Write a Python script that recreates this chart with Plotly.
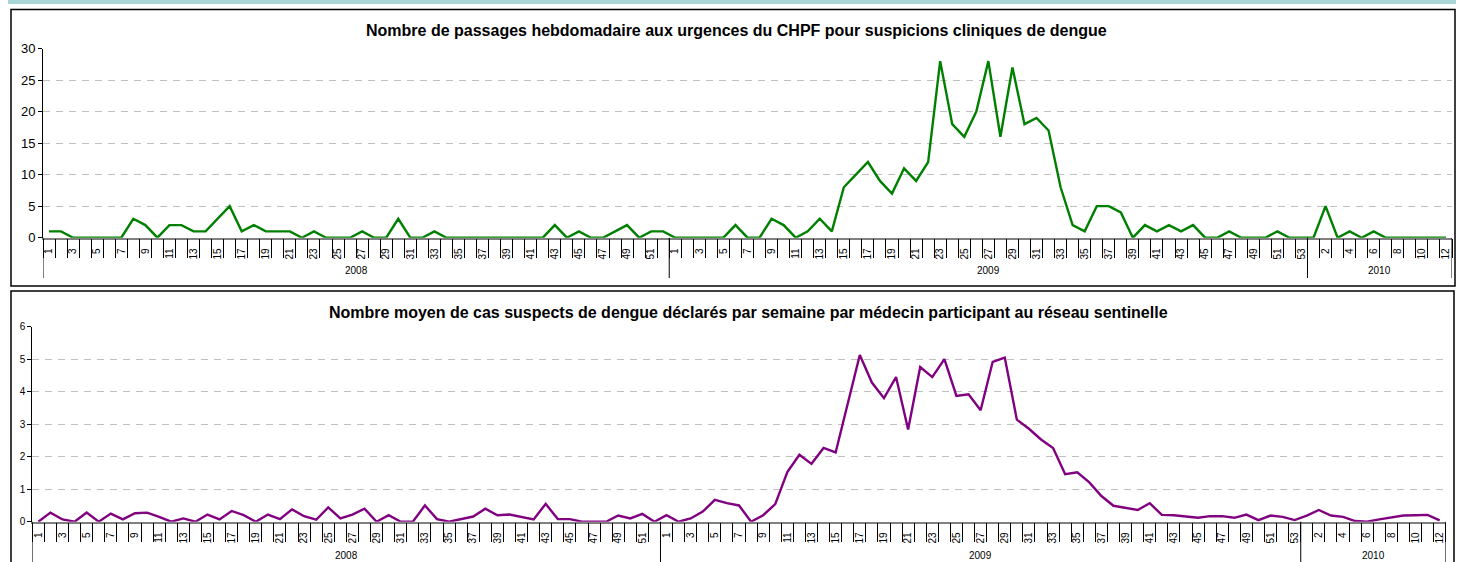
import plotly.graph_objects as go

# ---------------- data ----------------
years = ["2008", "2009", "2010"]
weeks_per_year = [52, 53, 12]

urgences_2008 = [1, 1, 0, 0, 0, 0, 0, 3, 2, 0, 2, 2, 1, 1, 3, 5, 1, 2, 1, 1,
                 1, 0, 1, 0, 0, 0, 1, 0, 0, 3, 0, 0, 1, 0, 0, 0, 0, 0, 0, 0,
                 0, 0, 2, 0, 1, 0, 0, 1, 2, 0, 1, 1]
urgences_2009 = [0, 0, 0, 0, 0, 2, 0, 0, 3, 2, 0, 1, 3, 1, 8, 10, 12, 9, 7, 11,
                 9, 12, 28, 18, 16, 20, 28, 16, 27, 18, 19, 17, 8, 2, 1, 5, 5, 4, 0, 2,
                 1, 2, 1, 2, 0, 0, 1, 0, 0, 0, 1, 0, 0]
urgences_2010 = [0, 5, 0, 1, 0, 1, 0, 0, 0, 0, 0, 0]

sentinelle_2008 = [0.0, 0.28, 0.07, 0.0, 0.28, 0.0, 0.25, 0.07, 0.26, 0.28,
                   0.15, 0.0, 0.1, 0.0, 0.22, 0.07, 0.33, 0.2, 0.0, 0.22,
                   0.08, 0.38, 0.17, 0.06, 0.44, 0.1, 0.22, 0.4, 0.0, 0.2,
                   0.0, 0.0, 0.5, 0.08, 0.0, 0.07, 0.16, 0.4, 0.2, 0.22,
                   0.15, 0.07, 0.55, 0.08, 0.08, 0.0, 0.0, 0.0, 0.19, 0.1,
                   0.24, 0.0]
sentinelle_2009 = [0.2, 0.0, 0.1, 0.31, 0.67, 0.57, 0.5, 0.0, 0.2, 0.54,
                   1.53, 2.06, 1.78, 2.27, 2.13, 3.6, 5.13, 4.28, 3.8, 4.45,
                   2.84, 4.76, 4.45, 5.0, 3.87, 3.92, 3.43, 4.92, 5.05, 3.14,
                   2.86, 2.53, 2.27, 1.46, 1.52, 1.21, 0.79, 0.49, 0.43, 0.36,
                   0.57, 0.21, 0.2, 0.15, 0.12, 0.17, 0.17, 0.12, 0.22, 0.05,
                   0.19, 0.15, 0.05]
sentinelle_2010 = [0.19, 0.36, 0.19, 0.15, 0.02, 0.0, 0.07, 0.13, 0.19, 0.2,
                   0.21, 0.04]

title_top = "Nombre de passages hebdomadaire aux urgences du CHPF pour suspicions cliniques de dengue"
title_bottom = "Nombre moyen de cas suspects de dengue déclarés par semaine par médecin participant au réseau sentinelle"

# ---------------- derived category positions ----------------
week_labels = []
for n in weeks_per_year:
    week_labels += [str(w) for w in range(1, n + 1)]
n_cat = len(week_labels)
xpos = list(range(n_cat))
urgences = urgences_2008 + urgences_2009 + urgences_2010
sentinelle = sentinelle_2008 + sentinelle_2009 + sentinelle_2010

tickvals = xpos[::2]
ticktext = week_labels[::2]

bounds = [-0.5]
for n in weeks_per_year:
    bounds.append(bounds[-1] + n)
year_centers = [(bounds[i] + bounds[i + 1]) / 2 for i in range(len(years))]

W, H = 1463, 562
FONT = "Liberation Sans, Arial, sans-serif"


def px_x(v):
    return v / W


def px_y(v):
    return 1 - v / H


fig = go.Figure()
fig.add_trace(go.Scatter(x=xpos, y=urgences, mode="lines",
                         line=dict(color="#008000", width=2.4),
                         xaxis="x", yaxis="y", showlegend=False,
                         hoverinfo="skip"))
fig.add_trace(go.Scatter(x=xpos, y=sentinelle, mode="lines",
                         line=dict(color="#800080", width=2.4),
                         xaxis="x2", yaxis="y2", showlegend=False,
                         hoverinfo="skip"))

# plot area geometry (pixels)
top = dict(left=43, right=1452, ytop=48.5, ybot=237.7, sep=278, yearlab=271)
bot = dict(left=32.3, right=1445.7, ytop=326.7, ybot=521.7, sep=575, yearlab=555)


def xaxis_def(g, anchor):
    return dict(
        domain=[px_x(g["left"]), px_x(g["right"])],
        range=[-0.5, n_cat - 0.5],
        anchor=anchor, automargin=False,
        tickmode="array", tickvals=tickvals, ticktext=ticktext,
        tickangle=-90, ticks="", ticklabelstandoff=5,
        tickfont=dict(family=FONT, size=10, color="#000"),
        showgrid=False, zeroline=False,
        showline=True, linecolor="#808080", linewidth=1.5,
        minor=dict(tickmode="linear", tick0=-0.5, dtick=1, ticks="outside",
                   ticklen=19, tickwidth=1, tickcolor="#000", showgrid=False),
        fixedrange=True,
    )


def yaxis_def(g, anchor, rng, dtick, fsize):
    return dict(
        domain=[px_y(g["ybot"]), px_y(g["ytop"])],
        range=rng, dtick=dtick, anchor=anchor, automargin=False,
        ticks="outside", ticklen=4, tickcolor="#000", tickwidth=1,
        tickfont=dict(family=FONT, size=fsize, color="#000"),
        showgrid=True, gridcolor="#c0c0c0", gridwidth=1, griddash="7px,6px",
        zeroline=False, showline=True, linecolor="#000", linewidth=1,
        fixedrange=True,
    )


shapes = []
annotations = []

# teal strip at top
shapes.append(dict(type="rect", xref="paper", yref="paper",
                   x0=px_x(8), x1=px_x(1456), y0=px_y(4), y1=px_y(0),
                   fillcolor="#a9d5d4", line=dict(width=0), layer="below"))
# panel frames
shapes.append(dict(type="rect", xref="paper", yref="paper",
                   x0=px_x(11), x1=px_x(1455), y0=px_y(286), y1=px_y(9.5),
                   fillcolor="rgba(0,0,0,0)", line=dict(color="#000", width=1.5)))
shapes.append(dict(type="rect", xref="paper", yref="paper",
                   x0=px_x(11), x1=px_x(1454), y0=px_y(600), y1=px_y(291),
                   fillcolor="rgba(0,0,0,0)", line=dict(color="#000", width=1.5)))

for g, xr, yr in [(top, "x", "y"), (bot, "x2", "y2")]:
    h = g["ybot"] - g["ytop"]
    for b in bounds:
        shapes.append(dict(type="line", xref=xr, yref=yr + " domain",
                           x0=b, x1=b, y0=0, y1=-(g["sep"] - g["ybot"]) / h,
                           line=dict(color="#000", width=1)))
    for yl, xc in zip(years, year_centers):
        annotations.append(dict(text=yl, x=xc, xref=xr,
                                y=-(g["yearlab"] - g["ybot"]) / h, yref=yr + " domain",
                                showarrow=False, yanchor="middle",
                                font=dict(family=FONT, size=10, color="#000")))

annotations.append(dict(text="<b>" + title_top + "</b>", x=px_x(736), y=px_y(30),
                        xref="paper", yref="paper", showarrow=False, yanchor="middle",
                        font=dict(family=FONT, size=16, color="#000")))
annotations.append(dict(text="<b>" + title_bottom + "</b>", x=px_x(748), y=px_y(312),
                        xref="paper", yref="paper", showarrow=False, yanchor="middle",
                        font=dict(family=FONT, size=16, color="#000")))

fig.update_layout(
    width=W, height=H, autosize=False,
    margin=dict(l=0, r=0, t=0, b=0, pad=0),
    paper_bgcolor="#ffffff", plot_bgcolor="#ffffff",
    xaxis=xaxis_def(top, "y"),
    yaxis=yaxis_def(top, "x", [0, 30], 5, 13),
    xaxis2=xaxis_def(bot, "y2"),
    yaxis2=yaxis_def(bot, "x2", [0, 6], 1, 10),
    shapes=shapes, annotations=annotations,
    showlegend=False,
)

fig.write_html(
    "out.html",
    config={"displayModeBar": False},
    post_script="document.body.style.margin='0';document.body.style.padding='0';",
)
